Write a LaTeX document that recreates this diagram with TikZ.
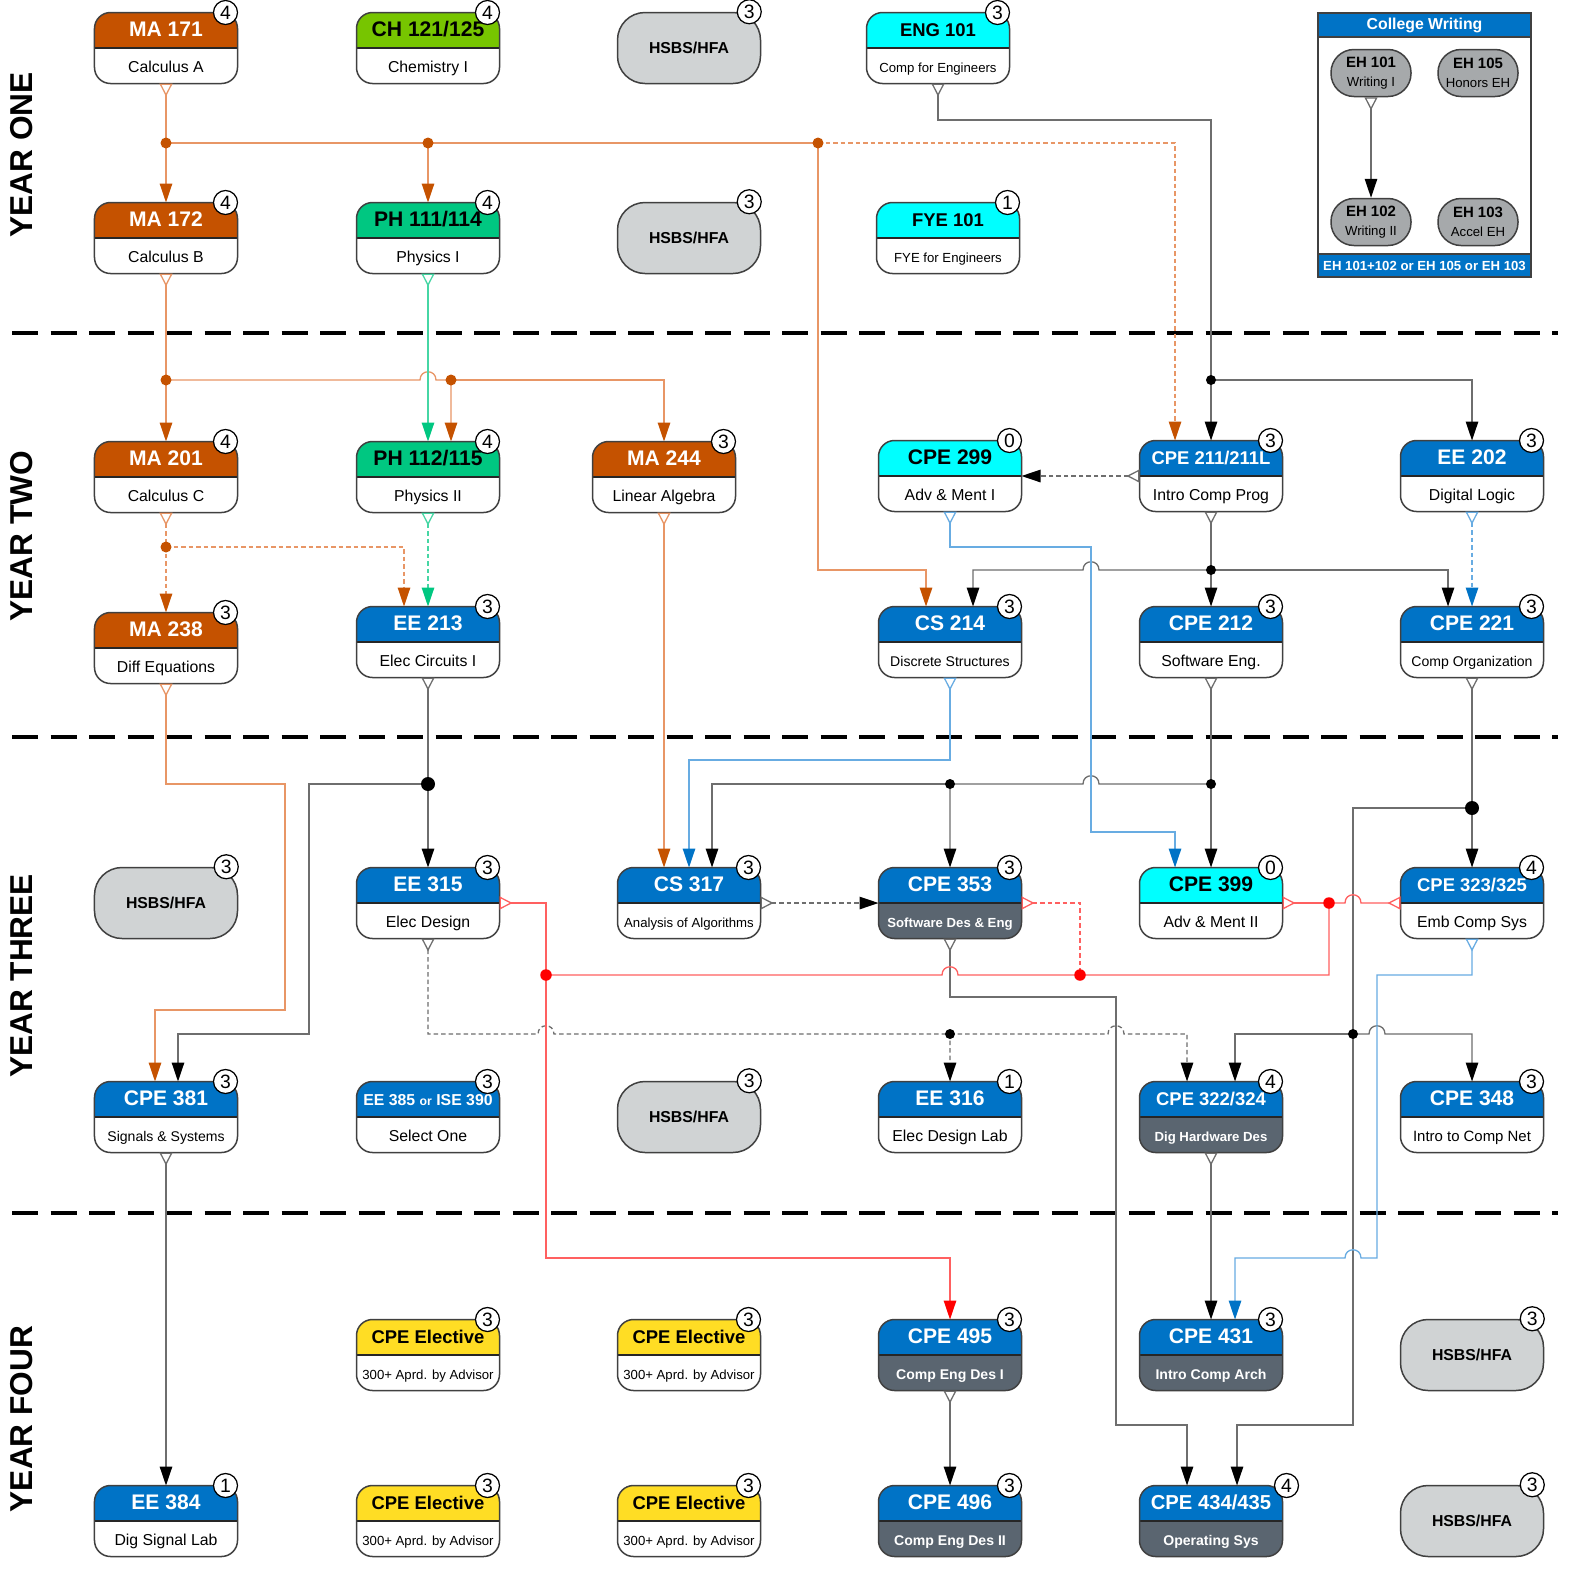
\documentclass[tikz,border=0pt]{standalone}
\usepackage{fontspec}
\setmainfont{Liberation Sans}
\usetikzlibrary{arrows.meta,calc}

\definecolor{maHead}{RGB}{197,82,0}\colorlet{maHtext}{white}\colorlet{maBody}{white}\colorlet{maBtext}{black}
\definecolor{chHead}{RGB}{119,197,0}\colorlet{chHtext}{black}\colorlet{chBody}{white}\colorlet{chBtext}{black}
\definecolor{phHead}{RGB}{0,199,129}\colorlet{phHtext}{black}\colorlet{phBody}{white}\colorlet{phBtext}{black}
\definecolor{cpeHead}{RGB}{0,115,198}\colorlet{cpeHtext}{white}\colorlet{cpeBody}{white}\colorlet{cpeBtext}{black}
\definecolor{cyanHead}{RGB}{0,255,255}\colorlet{cyanHtext}{black}\colorlet{cyanBody}{white}\colorlet{cyanBtext}{black}
\colorlet{darkHead}{cpeHead}\colorlet{darkHtext}{white}\definecolor{darkBody}{RGB}{90,101,112}\colorlet{darkBtext}{white}
\definecolor{yelHead}{RGB}{255,221,36}\colorlet{yelHtext}{black}\colorlet{yelBody}{white}\colorlet{yelBtext}{black}
\definecolor{hsbsgrey}{RGB}{208,211,212}
\definecolor{ehgrey}{RGB}{166,169,171}
\definecolor{lineK}{RGB}{110,110,110}
\definecolor{lineO}{RGB}{232,150,102}
\definecolor{lineG}{RGB}{70,214,164}
\definecolor{lineB}{RGB}{104,172,226}
\definecolor{lineR}{RGB}{255,96,96}

\newcommand{\fsz}[1]{\fontsize{#1}{#1}\selectfont}
% course box: [credit shift], name, position, colour scheme, code, title, credits
\newcommand{\course}[7][-12]{%
  \node[coursebox] (#2) at (#3) {};
  \begin{scope}
    \clip[rounded corners=3.2mm] (#2.south west) rectangle (#2.north east);
    \fill[#4Body] (#2.south west) rectangle (#2.east);
    \fill[#4Head] (#2.west) rectangle (#2.north east);
  \end{scope}
  \draw[line width=0.4mm, black!85] (#2.west) -- (#2.east);
  \draw[boxline, rounded corners=3.2mm] (#2.south west) rectangle (#2.north east);
  \node[coursetitle, text=#4Htext] (#2-t) at ($(#2.center)+(0,-16)$) {#5};
  \node[coursesub, text=#4Btext] (#2-s) at ($(#2.center)+(0,19.5)$) {#6};
  \node[credit] (#2-c) at ($(#2.north east)+(#1,0)$) {#7};%
}
\newcommand{\hsbs}[2]{%
  \node[hsbsbox] (#1) at (#2) {HSBS/HFA};
  \node[credit] (#1-c) at ($(#1.north east)+(-12,0)$) {3};%
}
% line hops over a vertical wire
\newcommand{\hopR}[2]{-- (#1-8,#2) .. controls (#1-8,#2-11) and (#1+8,#2-11) .. (#1+8,#2)}
\newcommand{\hopL}[2]{-- (#1+8,#2) .. controls (#1+8,#2-11) and (#1-8,#2-11) .. (#1-8,#2)}

\begin{document}
\begin{tikzpicture}[x=0.2mm, y=-0.2mm,
    coursebox/.style={rectangle, minimum width=28.6mm, minimum height=14.2mm, inner sep=0pt, outer sep=0pt},
    boxline/.style={draw=black!75, line width=0.3mm},
    coursetitle/.style={font=\bfseries\fsz{12}, inner sep=0pt, anchor=mid},
    coursesub/.style={font=\fsz{9}, inner sep=0pt, anchor=mid},
    credit/.style={circle, draw=black, fill=white, line width=0.25mm, inner sep=0pt, minimum size=4.8mm, font=\fsz{11}},
    hsbsbox/.style={rectangle, rounded corners=5.5mm, draw=black!75, line width=0.3mm, fill=hsbsgrey,
      minimum width=28.6mm, minimum height=14.2mm, font=\bfseries\fsz{9}},
    ehbox/.style={rectangle, rounded corners=4.6mm, draw=black!75, line width=0.3mm, fill=ehgrey,
      minimum width=16mm, minimum height=9.4mm, inner sep=0pt, align=center, font=\fontsize{8.5}{11}\selectfont},
    cwframe/.style={rectangle, minimum width=42.6mm, minimum height=52.8mm, inner sep=0pt, outer sep=0pt},
    cwtext/.style={text=white, inner sep=0pt, font=\bfseries\fsz{9}},
    yearlabel/.style={rotate=90, font=\bfseries\fsz{18}},
    divider/.style={line width=0.8mm, dash pattern=on 5.2mm off 2.5mm},
    wireK/.style={draw=lineK, line width=0.26mm},
    wireO/.style={draw=lineO, line width=0.26mm},
    wireG/.style={draw=lineG, line width=0.26mm},
    wireB/.style={draw=lineB, line width=0.26mm},
    wireR/.style={draw=lineR, line width=0.26mm},
    dashln/.style={dash pattern=on 0.9mm off 0.6mm},
    crow/.tip={Triangle[open,reversed,length=2.6mm,width=2.6mm]},
    tipK/.tip={Triangle[length=3.8mm,width=2.5mm,color=black]},
    tipO/.tip={Triangle[length=3.8mm,width=2.5mm,color=maHead]},
    tipG/.tip={Triangle[length=3.8mm,width=2.5mm,color=phHead]},
    tipB/.tip={Triangle[length=3.8mm,width=2.5mm,color=cpeHead]},
    tipR/.tip={Triangle[length=3.8mm,width=2.5mm,color=red]},
    dotO/.style={circle, fill=maHead, inner sep=0pt, minimum size=2.2mm},
    dotK/.style={circle, fill=black, inner sep=0pt, minimum size=2mm},
    dotR/.style={circle, fill=red, inner sep=0pt, minimum size=2.3mm}]

\fill[white] (0,0) rectangle (1583,1585);
\useasboundingbox (0,0) rectangle (1583,1585);

% years
\node[yearlabel] (yone) at (22,155) {YEAR ONE};
\node[yearlabel] (ytwo) at (22,536) {YEAR TWO};
\node[yearlabel] (ythree) at (22,976) {YEAR THREE};
\node[yearlabel] (yfour) at (22,1419) {YEAR FOUR};
\draw[divider] (12,333) -- (1558,333);
\draw[divider] (12,737) -- (1558,737);
\draw[divider] (12,1213) -- (1558,1213);

% year one
\course{ma171}{166,48}{ma}{MA 171}{Calculus A}{4}
\course{ch121}{428,48}{ch}{CH 121/125}{Chemistry I}{4}
\hsbs{hsbsa}{689,48}
\course{eng101}{938,48}{cyan}{\fsz{10.5}ENG 101}{\fsz{7.5}Comp for Engineers}{3}
\course{ma172}{166,238}{ma}{MA 172}{Calculus B}{4}
\course{ph111}{428,238}{ph}{PH 111/114}{Physics I}{4}
\hsbs{hsbsb}{689,238}
\course{fye101}{948,238}{cyan}{\fsz{10.5}FYE 101}{\fsz{7.5}FYE for Engineers}{1}

% college writing
\node[cwframe] (cw) at (1424.5,145) {};
\draw[boxline, fill=cpeHead] (cw.north west) rectangle ($(cw.north east)+(0,24)$);
\draw[boxline, fill=cpeHead] ($(cw.south west)+(0,-23)$) rectangle (cw.south east);
\draw[boxline] (cw.north west) rectangle (cw.south east);
\node[cwtext] (cw-t) at ($(cw.north)+(0,12)$) {College Writing};
\node[cwtext, font=\bfseries\fsz{7.5}] (cw-f) at ($(cw.south)+(0,-11.5)$) {EH 101+102 or EH 105 or EH 103};
\node[ehbox] (eh101) at (1371,73) {\textbf{EH 101}\\{\fsz{7.5}Writing I}};
\node[ehbox] (eh105) at (1478,73) {\textbf{EH 105}\\{\fsz{7.5}Honors EH}};
\node[ehbox] (eh102) at (1371,222) {\textbf{EH 102}\\{\fsz{7.5}Writing II}};
\node[ehbox] (eh103) at (1478,222) {\textbf{EH 103}\\{\fsz{7.5}Accel EH}};

% year two
\course{ma201}{166,477}{ma}{MA 201}{Calculus C}{4}
\course{ph112}{428,477}{ph}{PH 112/115}{Physics II}{4}
\course{ma244}{664,477}{ma}{MA 244}{Linear Algebra}{3}
\course{cpe299}{950,476}{cyan}{CPE 299}{Adv \& Ment I}{0}
\course{cpe211}{1211,476}{cpe}{\fsz{10.5}CPE 211/211L}{Intro Comp Prog}{3}
\course{ee202}{1472,476}{cpe}{EE 202}{Digital Logic}{3}
\course{ma238}{166,648}{ma}{MA 238}{Diff Equations}{3}
\course{ee213}{428,642}{cpe}{EE 213}{Elec Circuits I}{3}
\course{cs214}{950,642}{cpe}{CS 214}{\fsz{8}Discrete Structures}{3}
\course{cpe212}{1211,642}{cpe}{CPE 212}{Software Eng.}{3}
\course{cpe221}{1472,642}{cpe}{CPE 221}{\fsz{8}Comp Organization}{3}

% year three
\hsbs{hsbsc}{166,903}
\course{ee315}{428,903}{cpe}{EE 315}{Elec Design}{3}
\course{cs317}{689,903}{cpe}{CS 317}{\fsz{7.5}Analysis of Algorithms}{3}
\course{cpe353}{950,903}{dark}{CPE 353}{\fsz{7.5}\bfseries Software Des \& Eng}{3}
\course{cpe399}{1211,903}{cyan}{CPE 399}{Adv \& Ment II}{0}
\course{cpe323}{1472,903}{cpe}{\fsz{10.5}CPE 323/325}{Emb Comp Sys}{4}
\course{cpe381}{166,1117}{cpe}{CPE 381}{\fsz{8}Signals \& Systems}{3}
\course{ee385}{428,1117}{cpe}{\fsz{9}EE 385 {\fsz{7}or} ISE 390}{Select One}{3}
\hsbs{hsbsd}{689,1117}
\course{ee316}{950,1117}{cpe}{EE 316}{Elec Design Lab}{1}
\course{cpe322}{1211,1117}{dark}{\fsz{10.5}CPE 322/324}{\fsz{7.5}\bfseries Dig Hardware Des}{4}
\course{cpe348}{1472,1117}{cpe}{CPE 348}{\fsz{8.5}Intro to Comp Net}{3}

% year four
\course{elec1}{428,1355}{yel}{\fsz{10.5}CPE Elective}{\fsz{7.5}300+ Aprd. by Advisor}{3}
\course{elec2}{689,1355}{yel}{\fsz{10.5}CPE Elective}{\fsz{7.5}300+ Aprd. by Advisor}{3}
\course{cpe495}{950,1355}{dark}{CPE 495}{\fsz{8}\bfseries Comp Eng Des I}{3}
\course{cpe431}{1211,1355}{dark}{CPE 431}{\fsz{8}\bfseries Intro Comp Arch}{3}
\hsbs{hsbse}{1472,1355}
\course{ee384}{166,1521}{cpe}{EE 384}{Dig Signal Lab}{1}
\course{elec3}{428,1521}{yel}{\fsz{10.5}CPE Elective}{\fsz{7.5}300+ Aprd. by Advisor}{3}
\course{elec4}{689,1521}{yel}{\fsz{10.5}CPE Elective}{\fsz{7.5}300+ Aprd. by Advisor}{3}
\course{cpe496}{950,1521}{dark}{CPE 496}{\fsz{8}\bfseries Comp Eng Des II}{3}
\course[4]{cpe434}{1211,1521}{dark}{\fsz{11.5}CPE 434/435}{\fsz{8}\bfseries Operating Sys}{4}
\hsbs{hsbsf}{1472,1521}

% junctions
\coordinate (jA) at (166,143);
\coordinate (jB) at (428,143);
\coordinate (jC) at (818,143);
\coordinate (jD) at (166,380);
\coordinate (jE) at (451,380);
\coordinate (jF) at (166,547);
\coordinate (jG) at (428,784);
\coordinate (jH) at (1211,380);
\coordinate (jI) at (1211,570);
\coordinate (jJ) at (1211,784);
\coordinate (jK) at (950,784);
\coordinate (jL) at (1472,808);
\coordinate (jM) at (1353,1034);
\coordinate (jN) at (950,1034);
\coordinate (jO) at (546,975);
\coordinate (jP) at (1080,975);
\coordinate (jQ) at (1329,903);

% orange
\draw[wireO, crow-tipO] (ma171) -- (ma172);
\draw[wireO, -tipO] (jA) -- (jB) -- (ph111);
\draw[wireO, -tipO] (jB) -- (jC) -- (818,570) -| ($(cs214.north)+(-24,0)$);
\draw[wireO, dashln, -tipO] (jC) -| ($(cpe211.north)+(-36,0)$);
\draw[wireO, crow-tipO] (ma172) -- (ma201);
\draw[wireO, -tipO] (jD) \hopR{428}{380} -- (jE) -- ($(ph112.north)+(23,0)$);
\draw[wireO, -tipO] (jE) -| (ma244);
\draw[wireO, dashln, crow-tipO] (ma201) -- (ma238);
\draw[wireO, dashln, -tipO] (jF) -| ($(ee213.north)+(-24,0)$);
\draw[wireO, crow-tipO] (ma238) -- (166,784) -- (285,784) -- (285,1010) -| ($(cpe381.north)+(-11,0)$);
\draw[wireO, crow-tipO] (ma244) -- ($(cs317.north)+(-25,0)$);

% green
\draw[wireG, crow-tipG] (ph111) -- (ph112);
\draw[wireG, dashln, crow-tipG] (ph112) -- (ee213);

% black
\draw[wireK, crow-tipK] (eh101) -- (eh102);
\draw[wireK, crow-tipK] (ee213) -- (ee315);
\draw[wireK, -tipK] (jG) -- (309,784) -- (309,1034) -| ($(cpe381.north)+(12,0)$);
\draw[wireK, crow-tipK] (eng101) -- (938,120) -| (cpe211);
\draw[wireK, -tipK] (jH) -| (ee202);
\draw[wireK, dashln, crow-tipK] (cpe211) -- (cpe299);
\draw[wireK, crow-tipK] (cpe211) -- (cpe212);
\draw[wireK, -tipK] (jI) \hopL{1091}{570} -| ($(cs214.north)+(23,0)$);
\draw[wireK, -tipK] (jI) -| ($(cpe221.north)+(-24,0)$);
\draw[wireK, crow-tipK] (cpe212) -- (cpe399);
\draw[wireK, -tipK] (jJ) \hopL{1091}{784} -- (jK) -- (cpe353);
\draw[wireK, -tipK] (jK) -| ($(cs317.north)+(23,0)$);
\draw[wireK, crow-tipK] (cpe221) -- (cpe323);
\draw[wireK, -tipK] (jL) -- (1353,808) -- (1353,1425) -| ($(cpe434.north)+(26,0)$);
\draw[wireK, -tipK] (jM) -| ($(cpe322.north)+(24,0)$);
\draw[wireK, -tipK] (jM) \hopR{1377}{1034} -| (cpe348);
\draw[wireK, dashln, crow-tipK] (cs317) -- (cpe353);
\draw[wireK, crow-tipK] (cpe353) -- (950,997) -- (1116,997) -- (1116,1425) -| ($(cpe434.north)+(-24,0)$);
\draw[wireK, dashln, crow-tipK] (ee315) -- (428,1034) \hopR{546}{1034} -- (jN) -- (ee316);
\draw[wireK, dashln, -tipK] (jN) \hopR{1116}{1034} -| ($(cpe322.north)+(-24,0)$);
\draw[wireK, crow-tipK] (cpe322) -- (cpe431);
\draw[wireK, crow-tipK] (cpe381) -- (ee384);
\draw[wireK, crow-tipK] (cpe495) -- (cpe496);

% blue
\draw[wireB, crow-tipB] (cpe299) -- (950,547) -- (1091,547) -- (1091,832) -| ($(cpe399.north)+(-36,0)$);
\draw[wireB, dashln, crow-tipB] (ee202) -- (cpe221);
\draw[wireB, crow-tipB] (cs214) -- (950,760) -| (cs317);
\draw[wireB, crow-tipB] (cpe323) -- (1472,975) -- (1377,975) -- (1377,1258) \hopL{1353}{1258} -| ($(cpe431.north)+(24,0)$);

% red
\draw[wireR, crow-tipR] (ee315.east) -- (546,903) -- (546,1258) -| (cpe495);
\draw[wireR] (jO) \hopR{950}{975} -- (jP) -- (1329,975) -- (jQ);
\draw[wireR, crow-] (cpe399) -- (jQ);
\draw[wireR, crow-] (cpe323.west) \hopL{1353}{903} -- (jQ);
\draw[wireR, dashln, crow-] (cpe353.east) -- (1080,903) -- (jP);

% dots
\node[dotO] (dA) at (jA) {};
\node[dotO] (dB) at (jB) {};
\node[dotO] (dC) at (jC) {};
\node[dotO] (dD) at (jD) {};
\node[dotO] (dE) at (jE) {};
\node[dotO] (dF) at (jF) {};
\node[dotK, minimum size=2.8mm] (dG) at (jG) {};
\node[dotK] (dH) at (jH) {};
\node[dotK] (dI) at (jI) {};
\node[dotK] (dJ) at (jJ) {};
\node[dotK] (dK) at (jK) {};
\node[dotK, minimum size=2.8mm] (dL) at (jL) {};
\node[dotK] (dM) at (jM) {};
\node[dotK] (dN) at (jN) {};
\node[dotR] (dO) at (jO) {};
\node[dotR] (dP) at (jP) {};
\node[dotR] (dQ) at (jQ) {};
\end{tikzpicture}
\end{document}
